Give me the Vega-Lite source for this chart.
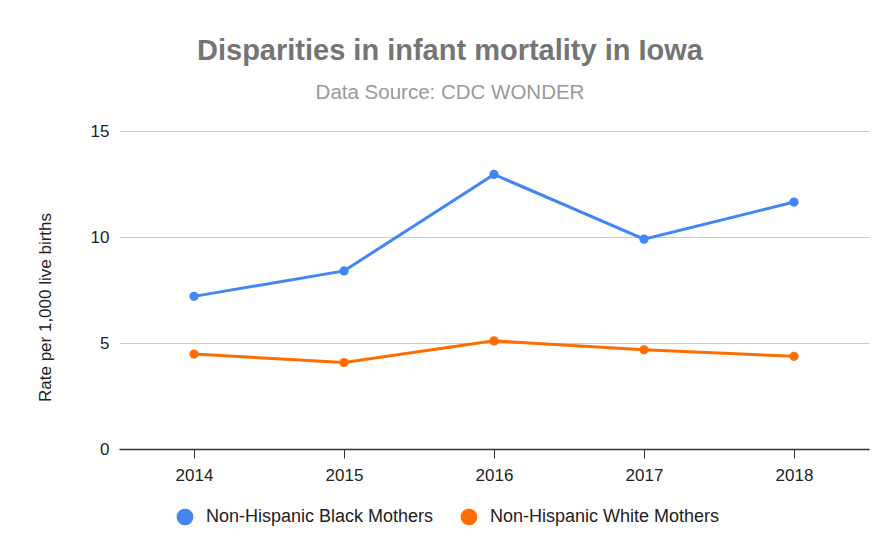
{
  "$schema": "https://vega.github.io/schema/vega-lite/v6.json",
  "autosize": "none",
  "width": 750,
  "height": 318,
  "padding": {"left": 119, "top": 131, "right": 17, "bottom": 102},
  "background": "white",
  "title": {
    "text": "Disparities in infant mortality in Iowa",
    "subtitle": "Data Source: CDC WONDER",
    "anchor": "middle",
    "dx": -44,
    "offset": 19,
    "font": "Liberation Sans",
    "fontSize": 29,
    "fontWeight": "bold",
    "color": "#757575",
    "subtitleFont": "Liberation Sans",
    "subtitleFontSize": 20.5,
    "subtitleColor": "#999999",
    "subtitlePadding": 17
  },
  "data": {
    "values": [
      {"year": "2014", "group": "Non-Hispanic Black Mothers", "rate": 7.2},
      {"year": "2015", "group": "Non-Hispanic Black Mothers", "rate": 8.4},
      {"year": "2016", "group": "Non-Hispanic Black Mothers", "rate": 12.95},
      {"year": "2017", "group": "Non-Hispanic Black Mothers", "rate": 9.9},
      {"year": "2018", "group": "Non-Hispanic Black Mothers", "rate": 11.65},
      {"year": "2014", "group": "Non-Hispanic White Mothers", "rate": 4.48},
      {"year": "2015", "group": "Non-Hispanic White Mothers", "rate": 4.08},
      {"year": "2016", "group": "Non-Hispanic White Mothers", "rate": 5.1},
      {"year": "2017", "group": "Non-Hispanic White Mothers", "rate": 4.68},
      {"year": "2018", "group": "Non-Hispanic White Mothers", "rate": 4.37}
    ]
  },
  "mark": {"type": "line", "strokeWidth": 3, "point": {"filled": true, "size": 85, "opacity": 1}},
  "encoding": {
    "x": {
      "field": "year",
      "type": "ordinal",
      "scale": {"type": "point", "padding": 0.5},
      "axis": {
        "title": null,
        "labelAngle": 0,
        "domainColor": "#333333",
        "domainWidth": 1.5,
        "tickColor": "#333333",
        "tickSize": 9,
        "labelPadding": 9,
        "labelFontSize": 17,
        "labelColor": "#222222",
        "labelFont": "Liberation Sans",
        "grid": false
      }
    },
    "y": {
      "field": "rate",
      "type": "quantitative",
      "scale": {"domain": [0, 15], "nice": false},
      "axis": {
        "title": "Rate per 1,000 live births",
        "titleFont": "Liberation Sans",
        "titleFontSize": 17,
        "titleFontWeight": "normal",
        "titleColor": "#222222",
        "titleX": -74,
        "titleY": 176,
        "titleAngle": -90,
        "titleAlign": "center",
        "titleBaseline": "middle",
        "values": [0, 5, 10, 15],
        "domain": false,
        "ticks": false,
        "labelPadding": 10,
        "labelFontSize": 17,
        "labelColor": "#222222",
        "labelFont": "Liberation Sans",
        "gridColor": "#cccccc",
        "gridWidth": 1
      }
    },
    "color": {
      "field": "group",
      "type": "nominal",
      "scale": {"range": ["#4285F4", "#FF6D01"]},
      "legend": {
        "title": null,
        "orient": "none",
        "direction": "horizontal",
        "legendX": 57,
        "legendY": 377,
        "symbolType": "circle",
        "symbolSize": 280,
        "symbolStrokeWidth": 0,
        "labelFont": "Liberation Sans",
        "labelFontSize": 18,
        "labelColor": "#222222",
        "labelLimit": 400,
        "columnPadding": 26,
        "labelOffset": 12
      }
    }
  },
  "config": {"view": {"stroke": null}}
}
